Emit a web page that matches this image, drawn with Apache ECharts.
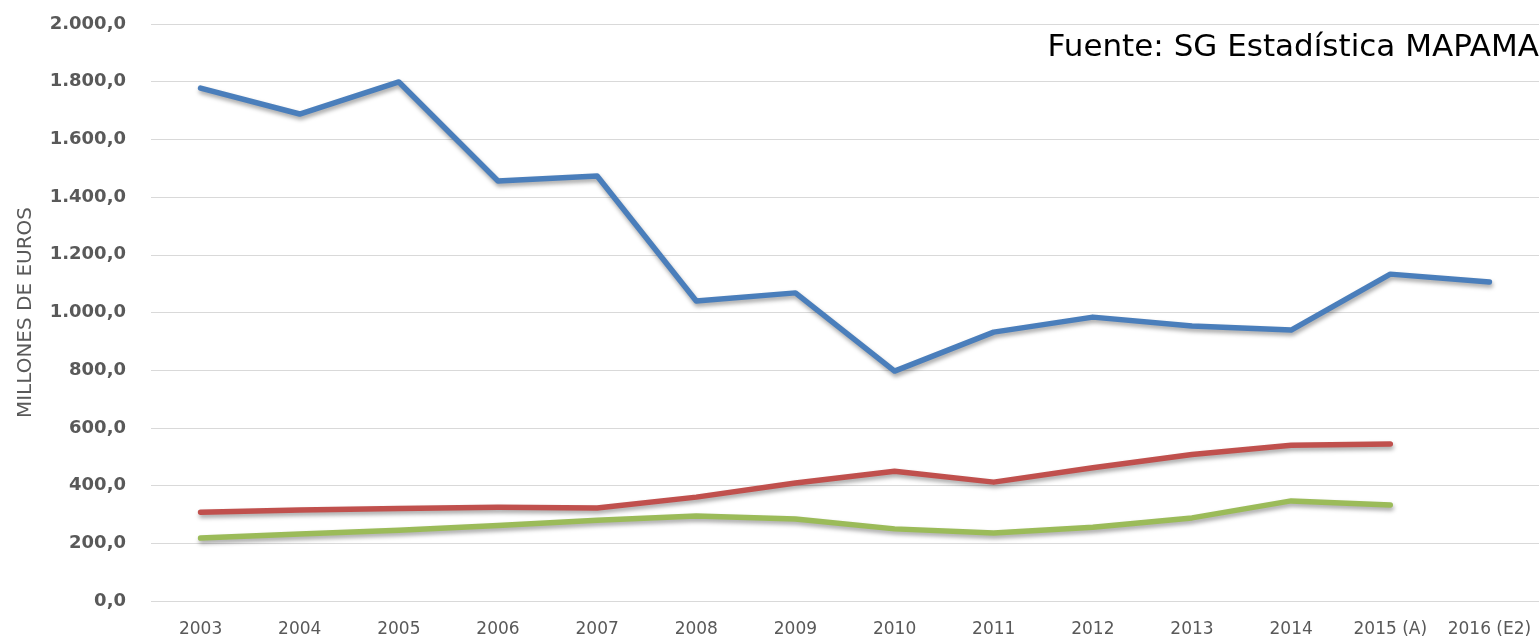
<!DOCTYPE html>
<html lang="es">
<head>
    <meta charset="UTF-8">
    <title>Millones de euros 2003-2016</title>
    <script src="https://cdn.jsdelivr.net/npm/echarts@6/dist/echarts.min.js"></script>
    <style>
        html, body { margin: 0; padding: 0; background: #ffffff; }
        #chart { width: 1539px; height: 640px; }
    </style>
</head>
<body>
<div id="chart"></div>
<script type="text/javascript">
    // categorías del eje x
    var years = ['2003', '2004', '2005', '2006', '2007', '2008', '2009', '2010',
                 '2011', '2012', '2013', '2014', '2015 (A)', '2016 (E2)'];
    // series
    var serieAzul  = [1778, 1688, 1799, 1456, 1473, 1040, 1068, 797, 932, 984, 953, 939, 1133, 1106];
    var serieRoja  = [308, 315, 321, 325, 322, 360, 409, 450, 412, 462, 508, 540, 544, '-'];
    var serieVerde = [218, 232, 245, 262, 280, 295, 284, 250, 236, 256, 288, 347, 333, '-'];

    var fuente = 'Fuente: SG Estadística MAPAMA';
    var fontFam = '"DejaVu Sans", sans-serif';

    // formato español: 1.800,0
    function fmt(v) {
        var s = v.toFixed(1).split('.');
        return s[0].replace(/\B(?=(\d{3})+(?!\d))/g, '.') + ',' + s[1];
    }

    function linea(data, color) {
        return {
            type: 'line',
            data: data,
            symbol: 'none',
            smooth: false,
            lineStyle: {
                width: 5.5,
                color: color,
                cap: 'round',
                join: 'round',
                shadowColor: 'rgba(0,0,0,0.35)',
                shadowBlur: 4,
                shadowOffsetX: 1,
                shadowOffsetY: 3
            },
            itemStyle: { color: color },
            silent: true
        };
    }

    var chart = echarts.init(document.getElementById('chart'));
    var option = {
        backgroundColor: '#ffffff',
        animation: false,
        grid: { left: 151, right: 0, top: 24, bottom: 39 },
        xAxis: {
            type: 'category',
            data: years,
            boundaryGap: true,
            axisLine: { show: false },
            axisTick: { show: false },
            axisLabel: { color: '#595959', fontSize: 17, fontFamily: fontFam, margin: 20, interval: 0 }
        },
        yAxis: {
            type: 'value',
            min: 0,
            max: 2000,
            interval: 200,
            name: 'MILLONES DE EUROS',
            nameLocation: 'middle',
            nameGap: 115,
            nameTextStyle: { color: '#595959', fontSize: 20, fontFamily: fontFam },
            axisLine: { show: false },
            axisTick: { show: false },
            axisLabel: {
                color: '#595959', fontSize: 18, fontWeight: 'bold', fontFamily: fontFam,
                margin: 25,
                formatter: fmt
            },
            splitLine: { lineStyle: { color: '#d9d9d9', width: 1 } }
        },
        graphic: [{
            type: 'text',
            right: 0,
            top: 32,
            style: { text: fuente, fill: '#000000', fontSize: 31, fontFamily: fontFam }
        }],
        series: [
            linea(serieAzul, '#4a7ebb'),
            linea(serieRoja, '#c0504d'),
            linea(serieVerde, '#9bbb59')
        ]
    };
    chart.setOption(option);
</script>
</body>
</html>
